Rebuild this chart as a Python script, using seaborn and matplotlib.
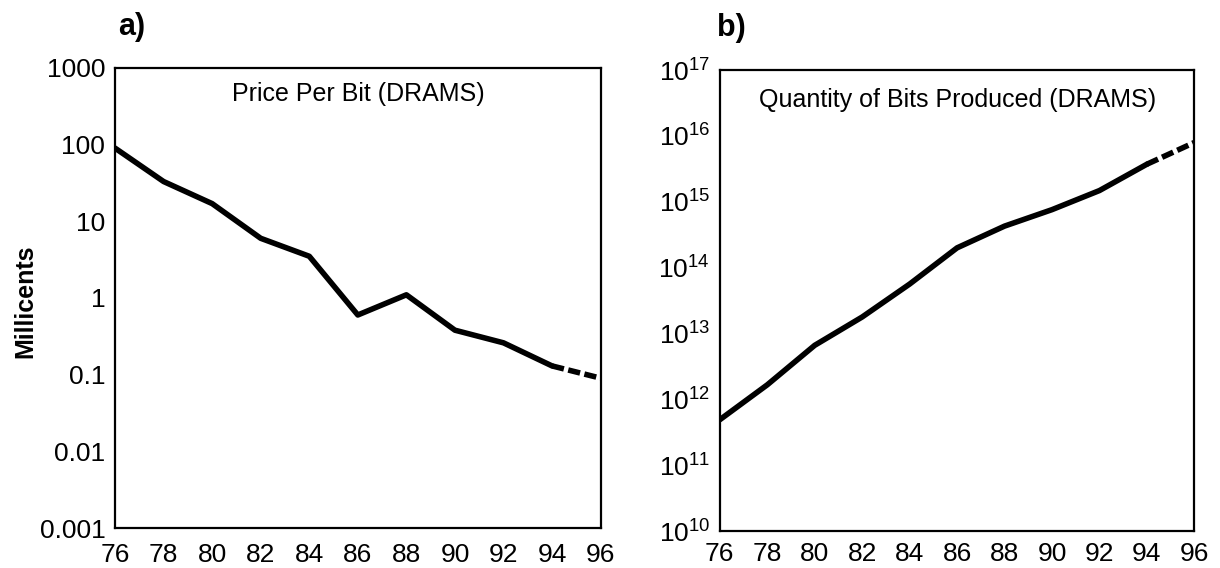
import matplotlib
matplotlib.use("Agg")
import matplotlib.pyplot as plt
import numpy as np
import pandas as pd
import seaborn as sns
from matplotlib.ticker import NullLocator, FixedLocator, FuncFormatter

# data
years = [76, 78, 80, 82, 84, 86, 88, 90, 92, 94, 96]
price_millicents = [90, 33, 17, 6.0, 3.5, 0.6, 1.1, 0.38, 0.26, 0.13, 0.09]
bits_log10 = [11.69, 12.22, 12.82, 13.25, 13.75, 14.3, 14.63, 14.88, 15.17, 15.57, 15.9]
price_ticks = [0.001, 0.01, 0.1, 1, 10, 100, 1000]
bits_tick_exp = [10, 11, 12, 13, 14, 15, 16, 17]
last_actual = 94  # dashed after this year (projection)

sns.set_theme(style="white")
plt.rcParams['font.family'] = ['Liberation Sans Narrow', 'Liberation Sans', 'DejaVu Sans']
plt.rcParams['text.color'] = 'black'
plt.rcParams['mathtext.fontset'] = 'custom'
plt.rcParams['mathtext.rm'] = 'Liberation Sans'
plt.rcParams['mathtext.it'] = 'Liberation Sans'

df = pd.DataFrame({"year": years, "price": price_millicents,
                   "bits": [10 ** v for v in bits_log10]})
actual = df[df["year"] <= last_actual]
proj = df[df["year"] >= last_actual]

fig = plt.figure(figsize=(12.2, 5.68), dpi=100)
ax1 = fig.add_axes([0.0943, 0.0704, 0.398, 0.81])
ax2 = fig.add_axes([0.590, 0.0651, 0.389, 0.8116])


def style_axes(ax, xpad):
    for s in ax.spines.values():
        s.set_color("black")
        s.set_linewidth(1.6)
    ax.set_xlim(76, 96)
    ax.set_xticks(years)
    ax.yaxis.set_minor_locator(NullLocator())
    ax.tick_params(axis="x", direction="in", length=8, width=1.3, labelsize=19,
                   pad=xpad, colors="black")
    ax.tick_params(axis="y", direction="in", length=5, width=1.3, labelsize=19,
                   pad=7, colors="black")
    ax.set_xlabel("")
    ax.set_ylabel("")


# a) price per bit
sns.lineplot(data=actual, x="year", y="price", ax=ax1, color="black", lw=4)
sns.lineplot(data=proj, x="year", y="price", ax=ax1, color="black", lw=4,
             linestyle=(0, (2.2, 0.8)))
ax1.set_yscale("log")
ax1.set_ylim(0.001, 1000)
ax1.yaxis.set_major_locator(FixedLocator(price_ticks))
ax1.yaxis.set_major_formatter(FuncFormatter(lambda v, p: f"{v:g}"))
style_axes(ax1, 11)
ax1.text(0.5, 0.97, "Price Per Bit (DRAMS)", transform=ax1.transAxes,
         ha="center", va="top", fontsize=18, color="black")
fig.text(0.0205, 0.47, "Millicents", rotation=90, ha="center", va="center",
         fontsize=18, fontweight="bold", color="black")
fig.text(0.097, 0.952, "a)", ha="left", va="center", fontsize=22,
         fontweight="bold", color="black")

# b) quantity of bits produced
sns.lineplot(data=actual, x="year", y="bits", ax=ax2, color="black", lw=4)
sns.lineplot(data=proj, x="year", y="bits", ax=ax2, color="black", lw=4,
             linestyle=(0, (2.2, 0.8)))
ax2.set_yscale("log")
ax2.set_ylim(1e10, 1e17)
ax2.yaxis.set_major_locator(FixedLocator([10.0 ** e for e in bits_tick_exp]))
ax2.yaxis.set_major_formatter(
    FuncFormatter(lambda v, p: r"$10^{%d}$" % round(np.log10(v))))
style_axes(ax2, 8)
ax2.text(0.5, 0.96, "Quantity of Bits Produced (DRAMS)", transform=ax2.transAxes,
         ha="center", va="top", fontsize=18, color="black")
fig.text(0.588, 0.95, "b)", ha="left", va="center", fontsize=22,
         fontweight="bold", color="black")

fig.savefig("out.png", dpi=100)
